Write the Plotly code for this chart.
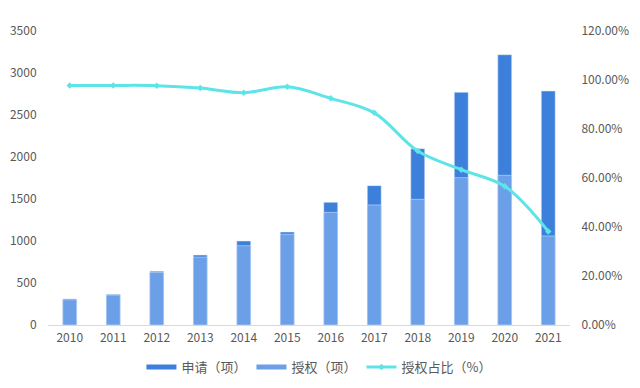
import plotly.graph_objects as go

years = ["2010", "2011", "2012", "2013", "2014", "2015", "2016", "2017", "2018", "2019", "2020", "2021"]
applications = [310, 365, 640, 833, 1000, 1107, 1460, 1659, 2099, 2770, 3218, 2786]
grants = [300, 356, 625, 808, 944, 1080, 1341, 1429, 1496, 1754, 1782, 1060]
grant_ratio = [97.8, 97.8, 97.7, 96.7, 94.8, 97.2, 92.5, 86.6, 71.0, 63.4, 56.6, 38.2]

DARK = "#3d80dc"
LIGHT = "#6b9fe7"
CYAN = "#5ce4e9"
FONT = "Noto Sans CJK SC"
TICK = "rgba(0,0,0,0)"

fig = go.Figure()
fig.add_trace(go.Bar(x=years, y=applications, name="申请（项）", marker_color=DARK,
                     width=0.32, showlegend=False))
fig.add_trace(go.Bar(x=years, y=grants, name="授权（项）", marker_color=LIGHT,
                     width=0.32, showlegend=False))
fig.add_trace(go.Scatter(x=years, y=grant_ratio, name="授权占比（%）", yaxis="y2",
                         mode="lines+markers", line=dict(color=CYAN, width=3, shape="spline"),
                         marker=dict(symbol="diamond", size=5, color=CYAN), showlegend=False))

# legend entries
fig.add_trace(go.Scatter(x=[None], y=[None], mode="lines", name="申请（项）",
                         line=dict(color=DARK, width=5)))
fig.add_trace(go.Scatter(x=[None], y=[None], mode="lines", name="授权（项）",
                         line=dict(color=LIGHT, width=5)))
fig.add_trace(go.Scatter(x=[None], y=[None], mode="lines+markers", name="授权占比（%）",
                         line=dict(color=CYAN, width=3),
                         marker=dict(symbol="diamond", size=5, color=CYAN)))

fig.update_layout(
    width=632, height=380,
    margin=dict(l=40, r=70, t=23, b=63),
    barmode="overlay",
    plot_bgcolor="white", paper_bgcolor="white",
    font=dict(family=FONT, size=12, color="#595959"),
    xaxis=dict(type="category", range=[-0.5, 11.5], showgrid=False, showline=True,
               linecolor="#d9d9d9", linewidth=1, ticks="outside", ticklen=2, tickcolor=TICK,
               automargin=False, tickfont=dict(size=12, color="#595959")),
    yaxis=dict(range=[0, 3500], dtick=500, showgrid=False, zeroline=False, automargin=False,
               ticks="outside", ticklen=8, tickcolor=TICK,
               tickfont=dict(size=12, color="#595959")),
    yaxis2=dict(range=[0, 120], dtick=20, overlaying="y", side="right", showgrid=False,
                zeroline=False, tickformat=".2f", ticksuffix="%", automargin=False,
                ticks="outside", ticklen=8, tickcolor=TICK,
                tickfont=dict(size=12, color="#595959")),
    legend=dict(orientation="h", x=0.52, xanchor="center", yref="container", y=0.055,
                yanchor="middle", font=dict(size=13, color="#595959"), itemwidth=30,
                traceorder="normal"),
)

fig.write_html("out.html")
